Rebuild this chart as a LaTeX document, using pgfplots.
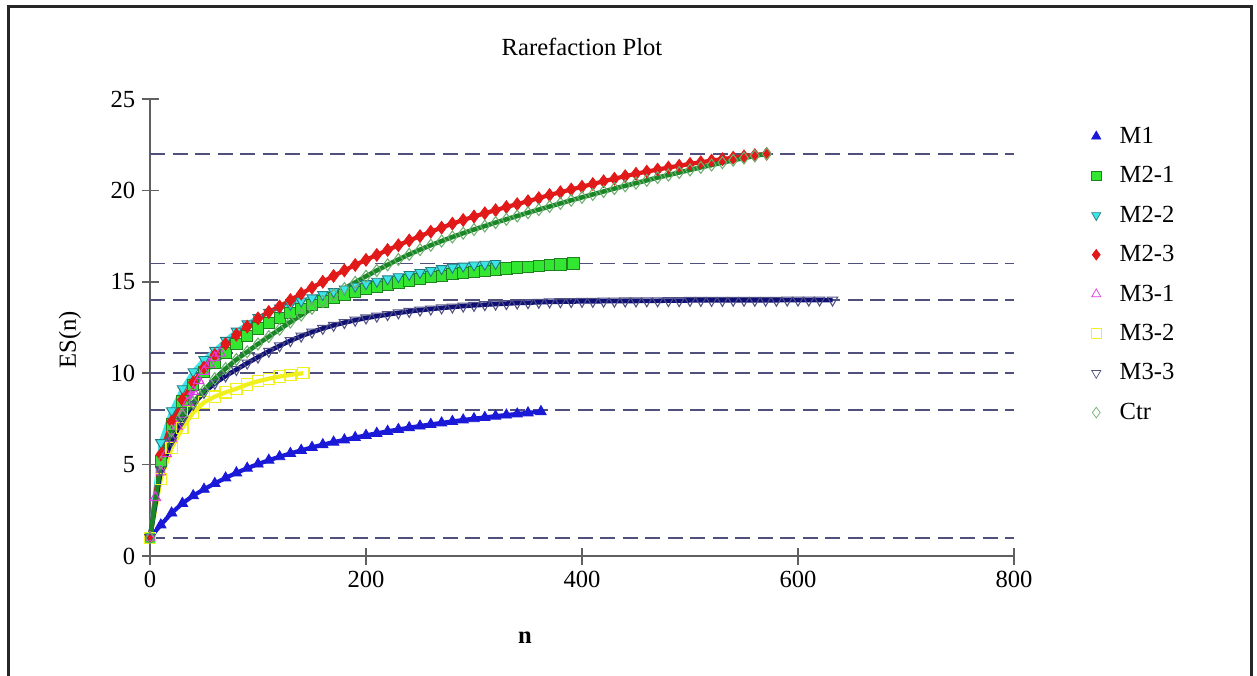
\documentclass[border=0pt]{standalone}
\usepackage{fontspec}
\setmainfont{Liberation Serif}
\usepackage{pgfplots}
\pgfplotsset{compat=1.18}

\definecolor{cM1}{RGB}{25,25,215}
\definecolor{cM21}{RGB}{50,230,50}
\definecolor{cM21d}{RGB}{30,130,30}
\definecolor{cM22}{RGB}{60,230,230}
\definecolor{cM22d}{RGB}{40,120,130}
\definecolor{cM23}{RGB}{225,25,25}
\definecolor{cM31}{RGB}{225,60,225}
\definecolor{cM32}{RGB}{240,240,30}
\definecolor{cM33}{RGB}{15,15,120}
\definecolor{cM33m}{RGB}{80,80,130}
\definecolor{cCtr}{RGB}{25,135,40}
\definecolor{cCtrm}{RGB}{110,175,110}
\definecolor{refline}{RGB}{80,80,125}

\begin{document}
\begin{tikzpicture}[font=\fontsize{14}{16}\selectfont]
\useasboundingbox (0,0) rectangle (25.14,13.5);
\draw[line width=0.06cm, black!85] (0.17,-0.2) -- (0.17,13.36) -- (25.02,13.36) -- (25.02,-0.2);
\node at (11.64,12.56) {Rarefaction Plot};
\node[rotate=90] at (1.4,6.7) {ES(n)};
\node at (10.5,0.74) {\textbf{n}};
\begin{axis}[
    at={(3cm,2.38cm)}, anchor=south west,
    scale only axis, width=17.28cm, height=9.14cm,
    xmin=0, xmax=800, ymin=0, ymax=25,
    axis lines*=left,
    axis line style={-, gray!75!black, line width=0.9pt},
    tick align=center, major tick length=0.34cm,
    tick style={gray!75!black, line width=0.9pt},
    xtick={0,200,...,800}, ytick={0,5,...,25},
    /pgf/number format/assume math mode=true,
    ticklabel style={font=\fontsize{14}{16}\selectfont},
    legend style={at={(1.083,0.955)}, anchor=north west, draw=none,
        font=\fontsize{14}{16}\selectfont, row sep=0.27cm,
        /tikz/every odd column/.append style={column sep=0.3cm}},
    legend cell align=left,
    clip=false,
]
% reference lines
\addplot[forget plot, refline, line width=1.1pt, dash pattern=on 0.3cm off 0.15cm] coordinates {(0,22) (800,22)};
\addplot[forget plot, refline, line width=1.1pt, dash pattern=on 0.3cm off 0.15cm] coordinates {(0,16) (800,16)};
\addplot[forget plot, refline, line width=1.1pt, dash pattern=on 0.3cm off 0.15cm] coordinates {(0,14) (800,14)};
\addplot[forget plot, refline, line width=1.1pt, dash pattern=on 0.3cm off 0.15cm] coordinates {(0,11.1) (800,11.1)};
\addplot[forget plot, refline, line width=1.1pt, dash pattern=on 0.3cm off 0.15cm] coordinates {(0,10) (800,10)};
\addplot[forget plot, refline, line width=1.1pt, dash pattern=on 0.3cm off 0.15cm] coordinates {(0,8) (800,8)};
\addplot[forget plot, refline, line width=1.1pt, dash pattern=on 0.3cm off 0.15cm] coordinates {(0,1) (800,1)};

% M1
\addplot[forget plot, cM1, line width=2.4pt, mark=triangle*, mark size=3.4pt, mark options={solid, fill=cM1, draw=cM1, line width=0.5pt}] coordinates {
(0,1) (10,1.7) (20,2.35) (30,2.88) (40,3.3) (50,3.65) (60,3.97) (70,4.27) (80,4.55) (90,4.8)
(100,5.03) (110,5.24) (120,5.43) (130,5.61) (140,5.78) (150,5.94) (160,6.09) (170,6.23) (180,6.35) (190,6.48)
(200,6.60) (210,6.71) (220,6.82) (230,6.92) (240,7.02) (250,7.11) (260,7.20) (270,7.28) (280,7.36) (290,7.44)
(300,7.51) (310,7.58) (320,7.65) (330,7.71) (340,7.77) (350,7.83) (362,7.9)};

% M2-1
\addplot[forget plot, cM21, line width=2.4pt, mark=square*, mark size=3.2pt, mark options={solid, fill=cM21, draw=cM21d, line width=0.5pt}] coordinates {
(0,1) (10,5.2) (20,7.2) (30,8.45) (40,9.35) (50,10.05) (60,10.55) (70,11.1) (80,11.6) (90,12.05)
(100,12.45) (110,12.75) (120,13.03) (130,13.29) (140,13.5) (150,13.72) (160,13.92) (170,14.1) (180,14.28) (190,14.44)
(200,14.59) (210,14.73) (220,14.86) (230,14.97) (240,15.07) (250,15.16) (260,15.25) (270,15.33) (280,15.41) (290,15.48)
(300,15.55) (310,15.61) (320,15.67) (330,15.73) (340,15.78) (350,15.83) (360,15.87) (370,15.91) (380,15.95) (392,16.0)};

% M2-2
\addplot[forget plot, cM22, line width=2.4pt, mark=triangle*, mark size=3.4pt, mark options={solid, rotate=180, fill=cM22, draw=cM22d, line width=0.5pt}] coordinates {
(0,1) (10,6.2) (20,7.95) (30,9.15) (40,10.08) (50,10.75) (60,11.25) (70,11.8) (80,12.3) (90,12.7)
(100,13.05) (110,13.33) (120,13.57) (130,13.77) (140,13.95) (150,14.12) (160,14.3) (170,14.46) (180,14.61) (190,14.76)
(200,14.9) (210,15.03) (220,15.16) (230,15.28) (240,15.4) (250,15.51) (260,15.62) (270,15.72) (280,15.8) (290,15.86)
(300,15.92) (310,15.96) (320,16.0)};

% M2-3
\addplot[forget plot, cM23, line width=2.4pt, mark=diamond*, mark size=3.6pt, mark options={solid, fill=cM23, draw=cM23, line width=0.5pt}] coordinates {
(0,1) (10,5.55) (20,7.35) (30,8.55) (40,9.5) (50,10.3) (60,11.0) (70,11.6) (80,12.1) (90,12.55)
(100,13.0) (110,13.35) (120,13.65) (130,14.0) (140,14.35) (150,14.68) (160,15.0) (170,15.32) (180,15.62) (190,15.92)
(200,16.2) (210,16.47) (220,16.74) (230,17.0) (240,17.26) (250,17.5) (260,17.74) (270,17.96) (280,18.18) (290,18.38)
(300,18.57) (310,18.75) (320,18.92) (330,19.09) (340,19.25) (350,19.41) (360,19.58) (370,19.75) (380,19.9) (390,20.05)
(400,20.2) (410,20.35) (420,20.5) (430,20.64) (440,20.78) (450,20.91) (460,21.03) (470,21.14) (480,21.25) (490,21.35)
(500,21.45) (510,21.54) (520,21.63) (530,21.71) (540,21.79) (550,21.86) (560,21.93) (571,22.0)};

% M3-1
\addplot[forget plot, cM31, line width=2.4pt, mark=triangle, mark size=3.4pt, mark options={solid, draw=cM31, line width=0.6pt}] coordinates {
(0,1) (5,3.2) (10,4.6) (15,5.6) (20,6.4) (25,7.1) (30,7.75) (35,8.4) (40,9.0) (45,9.6)
(50,10.1) (55,10.5) (60,10.85) (65,11.1)};

% M3-2
\addplot[forget plot, cM32, line width=2.4pt, mark=square, mark size=3.2pt, mark options={solid, draw=cM32, line width=0.6pt}] coordinates {
(0,1) (10,4.2) (20,5.9) (30,7.0) (40,7.85) (50,8.4) (60,8.72) (70,8.95) (80,9.15) (90,9.38)
(100,9.56) (110,9.7) (120,9.82) (130,9.91) (142,10.0)};

% M3-3
\addplot[forget plot, cM33, line width=2.6pt, mark=triangle, mark size=3.4pt, mark options={solid, rotate=180, draw=cM33m, line width=0.6pt}] coordinates {
(0,1) (10,4.7) (20,6.3) (30,7.45) (40,8.3) (50,8.95) (60,9.45) (70,9.85) (80,10.2) (90,10.55)
(100,10.88) (110,11.2) (120,11.5) (130,11.78) (140,12.03) (150,12.25) (160,12.45) (170,12.62) (180,12.77) (190,12.9)
(200,13.02) (210,13.12) (220,13.21) (230,13.3) (240,13.38) (250,13.45) (260,13.51) (270,13.57) (280,13.62) (290,13.67)
(300,13.71) (310,13.75) (320,13.78) (330,13.81) (340,13.84) (350,13.86) (360,13.88) (370,13.9) (380,13.91) (390,13.92)
(400,13.93) (410,13.93) (420,13.94) (430,13.94) (440,13.95) (450,13.95) (460,13.96) (470,13.96) (480,13.97) (490,13.97)
(500,13.98) (510,13.98) (520,13.98) (530,13.98) (540,13.99) (550,13.99) (560,13.99) (570,13.99) (580,13.99) (590,14.0)
(600,14.0) (610,14.0) (620,14.0) (632,14.0)};

% Ctr
\addplot[forget plot, cCtr, line width=2.6pt, mark=diamond, mark size=3.4pt, mark options={solid, draw=cCtrm, line width=0.6pt}] coordinates {
(0,1) (10,5.1) (20,6.85) (30,7.7) (40,8.4) (50,9.05) (60,9.7) (70,10.25) (80,10.75) (90,11.17)
(100,11.6) (110,12.0) (120,12.4) (130,12.8) (140,13.18) (150,13.55) (160,13.92) (170,14.28) (180,14.63) (190,14.97)
(200,15.3) (210,15.62) (220,15.93) (230,16.22) (240,16.5) (250,16.76) (260,17.0) (270,17.23) (280,17.45) (290,17.66)
(300,17.86) (310,18.05) (320,18.24) (330,18.42) (340,18.6) (350,18.78) (360,18.95) (370,19.12) (380,19.29) (390,19.46)
(400,19.62) (410,19.78) (420,19.94) (430,20.1) (440,20.25) (450,20.4) (460,20.55) (470,20.7) (480,20.84) (490,20.98)
(500,21.12) (510,21.26) (520,21.39) (530,21.52) (540,21.65) (550,21.77) (560,21.89) (571,22.0)};

% legend
\addlegendimage{only marks, mark=triangle*, mark size=3pt, mark options={fill=cM1, draw=cM1}}
\addlegendentry{M1}
\addlegendimage{only marks, mark=square*, mark size=2.8pt, mark options={fill=cM21, draw=cM21d}}
\addlegendentry{M2-1}
\addlegendimage{only marks, mark=triangle*, mark size=3pt, mark options={rotate=180, fill=cM22, draw=cM22d}}
\addlegendentry{M2-2}
\addlegendimage{only marks, mark=diamond*, mark size=3pt, mark options={fill=cM23, draw=cM23}}
\addlegendentry{M2-3}
\addlegendimage{only marks, mark=triangle, mark size=3pt, mark options={draw=cM31}}
\addlegendentry{M3-1}
\addlegendimage{only marks, mark=square, mark size=2.8pt, mark options={draw=cM32}}
\addlegendentry{M3-2}
\addlegendimage{only marks, mark=triangle, mark size=3pt, mark options={rotate=180, draw=cM33m}}
\addlegendentry{M3-3}
\addlegendimage{only marks, mark=diamond, mark size=3pt, mark options={draw=cCtrm}}
\addlegendentry{Ctr}
\end{axis}
\end{tikzpicture}
\end{document}
